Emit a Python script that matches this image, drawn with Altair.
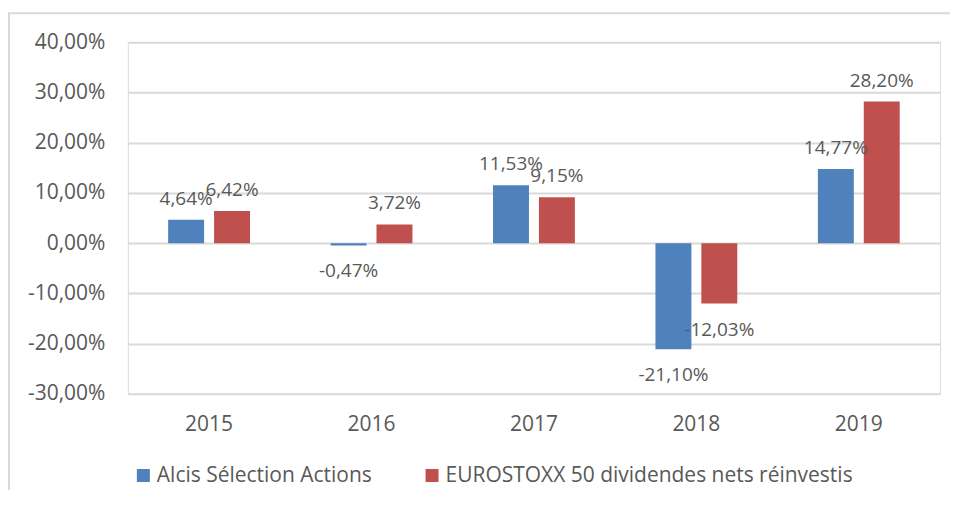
import altair as alt
import pandas as pd

years = ["2015", "2016", "2017", "2018", "2019"]
series_names = ["Alcis Sélection Actions", "EUROSTOXX 50 dividendes nets réinvestis"]
alcis = [4.64, -0.47, 11.53, -21.10, 14.77]
eurostoxx = [6.42, 3.72, 9.15, -12.03, 28.20]
y_ticks = [-0.3, -0.2, -0.1, 0.0, 0.1, 0.2, 0.3, 0.4]
colors = ["#4F81BD", "#C0504D"]

rows = []
for i, yr in enumerate(years):
    rows.append({"year": yr, "series": series_names[0], "order": 0, "value": alcis[i] / 100})
    rows.append({"year": yr, "series": series_names[1], "order": 1, "value": eurostoxx[i] / 100})
df = pd.DataFrame(rows)

FONT = "Open Sans"
TXT = "#595959"
W, H = 813, 352
FMT = "replace(replace(format(datum.value, '.2%'), '.', ','), '\u2212', '-')"

x_enc = alt.X("year:N", sort=years,
              scale=alt.Scale(paddingInner=0.496, paddingOuter=0.248),
              axis=alt.Axis(title=None, labelAngle=0, domain=False, ticks=False,
                            labelPadding=20, labelFontSize=21, labelColor=TXT, labelFont=FONT))
xo_enc = alt.XOffset("series:N", sort=series_names,
                     scale=alt.Scale(paddingInner=0.217, paddingOuter=0))
y_scale = alt.Scale(domain=[-0.3, 0.4], nice=False, zero=False)

base = alt.Chart(df)

bars = base.mark_bar().encode(
    x=x_enc,
    xOffset=xo_enc,
    y=alt.Y("value:Q", scale=y_scale,
            axis=alt.Axis(title=None, values=y_ticks, domain=False, ticks=False,
                          labelExpr=FMT,
                          labelPadding=23, labelFontSize=21, labelColor=TXT, labelFont=FONT,
                          grid=True, gridColor="#D9D9D9", gridWidth=2)),
    color=alt.Color("series:N", sort=series_names,
                    scale=alt.Scale(domain=series_names, range=colors),
                    legend=alt.Legend(title=None, orient="none", direction="horizontal",
                                      legendX=5, legendY=423, padding=0, symbolType="square",
                                      symbolSize=169, symbolStrokeWidth=0, labelOffset=3,
                                      columnPadding=49, labelFontSize=21, labelColor=TXT,
                                      labelFont=FONT, labelLimit=0)),
)

lab = base.transform_calculate(label=FMT)

pos_labels = lab.transform_filter("datum.value >= 0").mark_text(
    baseline="alphabetic", dy=-15, fontSize=19, font=FONT, color=TXT
).encode(x=x_enc, xOffset=xo_enc, y=alt.Y("value:Q", scale=y_scale), text="label:N")

neg_labels = lab.transform_filter("datum.value < 0").mark_text(
    baseline="alphabetic", dy=32, fontSize=19, font=FONT, color=TXT
).encode(x=x_enc, xOffset=xo_enc, y=alt.Y("value:Q", scale=y_scale), text="label:N")

one = pd.DataFrame({"a": [0]})
frame_top = alt.Chart(one).mark_rule(stroke="#D9D9D9", strokeWidth=2).encode(
    x=alt.value(-119), x2=alt.value(840), y=alt.value(-29))
frame_left = alt.Chart(one).mark_rule(stroke="#D9D9D9", strokeWidth=2).encode(
    x=alt.value(-119), y=alt.value(-30), y2=alt.value(520))

chart = alt.layer(frame_top, frame_left, bars, pos_labels, neg_labels).properties(
    width=W, height=H,
    padding={"left": 120, "top": 34, "right": 10, "bottom": 96},
    autosize=alt.AutoSizeParams(type="none"),
).configure_view(stroke=None).configure(background="white")

chart.save("out.html", embed_options={"renderer": "svg", "actions": False})
